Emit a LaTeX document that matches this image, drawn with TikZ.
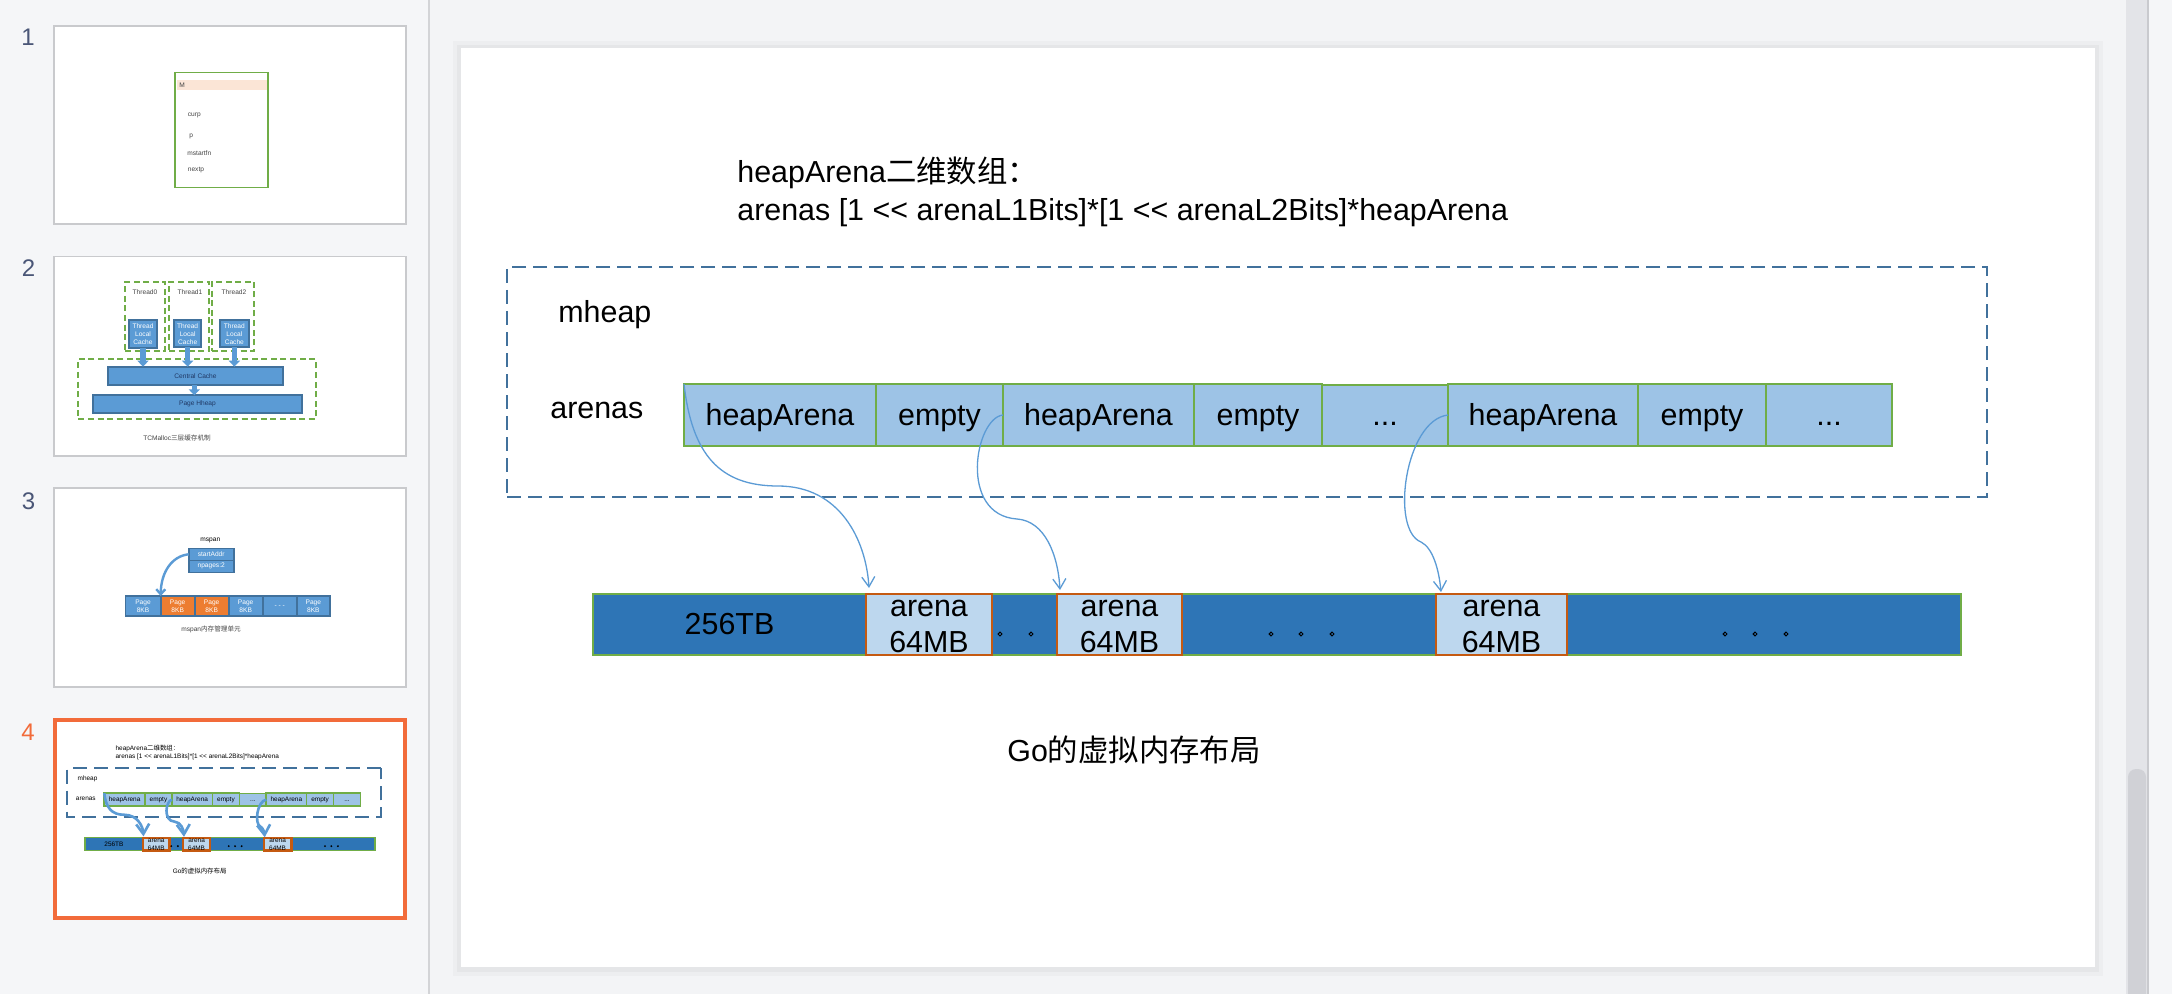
\documentclass[tikz,border=0pt]{standalone}
\usepackage{fontspec}
\setmainfont{Liberation Sans}
\newfontfamily\cjk{Noto Sans CJK SC}
\usetikzlibrary{arrows.meta}
\definecolor{sidebg}{HTML}{F5F6F8}
\definecolor{mainbg}{HTML}{F3F4F6}
\definecolor{sideline}{HTML}{D3D4D7}
\definecolor{cellfill}{HTML}{9DC3E6}
\definecolor{cellline}{HTML}{70AD47}
\definecolor{darkbar}{HTML}{2E75B6}
\definecolor{lightbar}{HTML}{BDD7EE}
\definecolor{arenaline}{HTML}{C55A11}
\definecolor{dashblue}{HTML}{41719C}
\definecolor{arrowblue}{HTML}{5B9BD5}
\definecolor{numgray}{HTML}{4A5677}
\definecolor{selorange}{HTML}{F26B3A}
\definecolor{thumbline}{HTML}{C9CACD}
\definecolor{orangecell}{HTML}{ED7D31}
\definecolor{tlcfill}{HTML}{5B9BD5}
\definecolor{tlcline}{HTML}{41719C}
\definecolor{textgray}{HTML}{444444}
\definecolor{darknavy}{HTML}{203864}
\definecolor{pinkband}{HTML}{FBE5D6}
\definecolor{tracklight}{HTML}{E3E4E8}
\definecolor{thumbgray}{HTML}{D0D1D6}
\definecolor{trackline}{HTML}{C9CACE}
\newcommand\bigf{\fontsize{15.2}{18}\selectfont}
\newcommand\tinyf{\fontsize{3.3}{4}\selectfont}
\newcommand\numf{\fontsize{12}{14}\selectfont}
\newcommand\mkbox[7]{\node[#1, minimum width={0.5pt*(#4-#3)}, minimum height={0.5pt*(#6-#5)}] (#2) at ({(#3+#4)/2},{(#5+#6)/2}) {#7};}
\newcommand\slidecontent{%
  \node[plaintext] (title1) at (737,183) {heapArena{\cjk 二维数组：}};
  \node[plaintext] (title2) at (737,221) {arenas [1 <\kern0pt< arenaL1Bits]*[1 <\kern0pt< arenaL2Bits]*heapArena};
  \mkbox{dashbox}{mheapbox}{507}{1987}{267}{497}{}
  \node[plaintext] (mheap) at (558,323) {mheap};
  \node[plaintext] (arenaslbl) at (550,418) {arenas};
  \mkbox{cellbox}{c1}{684}{876}{384}{446}{heapArena}
  \mkbox{cellbox}{c2}{876}{1003}{384}{446}{empty}
  \mkbox{cellbox}{c3}{1003}{1194}{384}{446}{heapArena}
  \mkbox{cellbox}{c4}{1194}{1322}{384}{446}{empty}
  \mkbox{cellbox}{c5}{1322}{1448}{385}{446}{...}
  \mkbox{cellbox}{c6}{1448}{1638}{384}{446}{heapArena}
  \mkbox{cellbox}{c7}{1638}{1766}{384}{446}{empty}
  \mkbox{cellbox}{c8}{1766}{1892}{384}{446}{...}
  \mkbox{barbox}{b1}{593}{866}{594}{655}{256TB}
  \mkbox{barbox}{b2}{992}{1057}{594}{655}{}
  \mkbox{barbox}{b3}{1182}{1436}{594}{655}{}
  \mkbox{barbox}{b4}{1567}{1961}{594}{655}{}
  \mkbox{arenabox}{a1}{866}{992}{594}{655}{}
  \mkbox{arenabox}{a2}{1057}{1182}{594}{655}{}
  \mkbox{arenabox}{a3}{1436}{1567}{594}{655}{}
  \node[arenatext] (a1t) at (929,616.7) {arena};
  \node[arenatext] (a1b) at (929,652.7) {64MB};
  \node[arenatext] (a2t) at (1119.5,616.7) {arena};
  \node[arenatext] (a2b) at (1119.5,652.7) {64MB};
  \node[arenatext] (a3t) at (1501.5,616.7) {arena};
  \node[arenatext] (a3b) at (1501.5,652.7) {64MB};
  \foreach \xx in {1000,1031,1271,1301,1332,1725,1755,1786}
    \draw[dotmark] (\xx,634) circle[radius=1.9];
  \coordinate (tip1) at (869,588);
  \coordinate (tip2) at (1060,590);
  \coordinate (tip3) at (1441,592);
  \draw[arrowline] (c1.north west) .. controls (692,455) and (720,486) .. (778,486)
                   .. controls (840,486) and (866,540) .. (tip1);
  \draw[arrowline] (c3.west) .. controls (975,418) and (958,515) .. (1017,519)
                   .. controls (1045,521) and (1058,555) .. (tip2);
  \draw[arrowline] (c6.west) .. controls (1405,420) and (1390,530) .. (1421,542)
                   .. controls (1433,548) and (1439,570) .. (tip3);
  \node[plaintext] (caption) at (1007,761) {Go{\cjk 的虚拟内存布局}};
}
\begin{document}
\begin{tikzpicture}[x=0.5pt,y=-0.5pt,
  cellbox/.style={draw=cellline, fill=cellfill, line width=1.15pt, inner sep=0pt, outer sep=0pt, font=\bigf, text height=11pt, text depth=1pt},
  barbox/.style={cellbox, fill=darkbar},
  arenabox/.style={cellbox, draw=arenaline, fill=lightbar, line width=1.1pt},
  dashbox/.style={draw=dashblue, line width=1pt, dash pattern=on 7pt off 3.5pt, inner sep=0pt, outer sep=0pt},
  plaintext/.style={anchor=base west, font=\bigf, inner sep=0pt},
  arenatext/.style={anchor=base, font=\bigf, inner sep=0pt},
  arrowline/.style={draw=arrowblue, line width=0.65pt, -{Straight Barb[length=5pt,width=6.5pt]}},
  dotmark/.style={draw=black, line width=0.45pt},
  thumbframe/.style={draw=thumbline, fill=white, line width=0.8pt},
  tinytext/.style={font=\tinyf, inner sep=0pt, text=textgray},
  numlabel/.style={font=\numf, text=numgray, inner sep=0pt},
  tlcbox/.style={draw=tlcline, fill=tlcfill, line width=0.9pt, inner sep=0pt, outer sep=0pt, font=\tinyf, text=white, align=center},
  greendash/.style={draw=cellline, line width=0.9pt, dash pattern=on 3pt off 1.8pt, inner sep=0pt, outer sep=0pt},
  blockarrow/.style={draw=tlcfill, line width=2.6pt, -{Triangle[length=3pt,width=5.5pt]}},
  ]
\useasboundingbox (0,0) rectangle (2172,994);
% backgrounds
\fill[mainbg] (0,0) rectangle (2172,994);
\fill[sidebg] (0,0) rectangle (428,994);
\draw[sideline, line width=1pt] (429,0) -- (429,994);
% scrollbar
\fill[tracklight] (2126,0) rectangle (2147,994);
\fill[trackline] (2147,0) rectangle (2149,994);
\fill[sidebg] (2149,0) rectangle (2172,994);
\fill[thumbgray, rounded corners=4pt] (2128,769) rectangle (2146,1010);
% slide with shadow
\fill[black, opacity=0.025] (453,41) rectangle (2103,976);
\fill[black, opacity=0.03] (457,45) rectangle (2099,972);
\fill[white] (461,48.5) rectangle (2094.5,967);
\slidecontent
% ---------- thumbnail 1 ----------
\node[numlabel] (n1) at (28,37.5) {1};
\draw[thumbframe] (54,26) rectangle (406,224);
\fill[pinkband] (176.5,80.5) rectangle (267,90.5);
\mkbox{draw=cellline, line width=0.8pt, inner sep=0pt, outer sep=0pt}{mbox}{175}{268}{72.7}{187.7}{}
\node[tinytext, anchor=west] (m1) at (179,85) {M};
\node[tinytext, anchor=west] (m2) at (187.5,115.7) {curp};
\node[tinytext, anchor=west] (m3) at (189,136.7) {p};
\node[tinytext, anchor=west] (m4) at (187,152.7) {mstartfn};
\node[tinytext, anchor=west] (m5) at (187.5,170) {nextp};
% ---------- thumbnail 2 ----------
\node[numlabel] (n2) at (28.5,268.3) {2};
\draw[thumbframe] (54,256.7) rectangle (406,455.7);
\mkbox{greendash}{th0}{125}{165}{281.7}{350.7}{}
\mkbox{greendash}{th1}{169.3}{209.3}{281.7}{350.7}{}
\mkbox{greendash}{th2}{211.7}{254.3}{281.7}{350.7}{}
\mkbox{greendash}{outer2}{78.3}{315.7}{359.3}{419}{}
\node[tinytext] (th0l) at (145,291.7) {Thread0};
\node[tinytext] (th1l) at (190,291.7) {Thread1};
\node[tinytext] (th2l) at (234,291.7) {Thread2};
\mkbox{tlcbox}{tlc0}{128.7}{157.3}{320}{348.3}{Thread\\Local\\Cache}
\mkbox{tlcbox}{tlc1}{174}{201.3}{320}{347.3}{Thread\\Local\\Cache}
\mkbox{tlcbox}{tlc2}{220}{248.7}{320}{347.3}{Thread\\Local\\Cache}
\mkbox{tlcbox, text=darknavy}{cc}{108.3}{282.7}{366.7}{385.3}{Central Cache}
\mkbox{tlcbox, text=darknavy}{ph}{93.3}{301.7}{395.3}{412.7}{Page Hheap}
\draw[blockarrow] (tlc0.south) -- (tlc0.south |- cc.north);
\draw[blockarrow] (tlc1.south) -- (tlc1.south |- cc.north);
\draw[blockarrow] (tlc2.south) -- (tlc2.south |- cc.north);
\draw[blockarrow] (cc.south -| 194.3,0) -- (ph.north -| 194.3,0);
\node[tinytext, text=textgray] (cap2) at (177,437.7) {TCMalloc{\cjk 三层缓存机制}};
% ---------- thumbnail 3 ----------
\node[numlabel] (n3) at (28.5,501) {3};
\draw[thumbframe] (54,487.7) rectangle (406,686.7);
\node[tinytext, text=black] (msp) at (210.3,540.3) {mspan};
\mkbox{tlcbox, line width=0.8pt}{sa}{188.7}{233.7}{548.3}{560.3}{startAddr}
\mkbox{tlcbox, line width=0.8pt}{np}{188.7}{233.7}{560.3}{572.3}{npages:2}
\mkbox{tlcbox, line width=0.8pt}{p1}{125.3}{160.7}{596}{616}{Page\\8KB}
\mkbox{tlcbox, line width=0.8pt, fill=orangecell}{p2}{160.7}{194.7}{596}{616}{Page\\8KB}
\mkbox{tlcbox, line width=0.8pt, fill=orangecell}{p3}{194.7}{228.7}{596}{616}{Page\\8KB}
\mkbox{tlcbox, line width=0.8pt}{p4}{228.7}{262.7}{596}{616}{Page\\8KB}
\mkbox{tlcbox, line width=0.8pt}{p5}{262.7}{296.7}{596}{616}{- - -}
\mkbox{tlcbox, line width=0.8pt}{p6}{296.7}{330}{596}{616}{Page\\8KB}
\draw[draw=arrowblue, line width=1.2pt, -{Straight Barb[length=2.5pt,width=4.5pt]}] (sa.west) .. controls (172,556) and (161,572) .. (p1.north east);
\node[tinytext, text=textgray] (cap3) at (211,629.3) {mspan{\cjk 内存管理单元}};
% ---------- thumbnail 4 ----------
\node[numlabel, text=selorange] (n4) at (28,732.5) {4};
\fill[white] (55.3,720.3) rectangle (405.3,918);
\begin{scope}[shift={(-40.73,711.72)}, scale=0.212, transform shape, name prefix=t-,
  arrowline/.append style={line width=1.3pt},
  cellbox/.append style={line width=0.8pt}]
\slidecontent
\end{scope}
\draw[selorange, line width=2pt] (55.3,720.3) rectangle (405.3,918);
\end{tikzpicture}
\end{document}
